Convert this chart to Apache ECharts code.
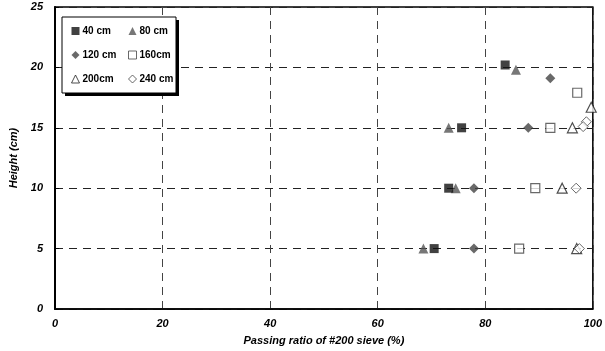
<!DOCTYPE html>
<html>
<head>
<meta charset="utf-8">
<script src="https://cdn.jsdelivr.net/npm/echarts@6/dist/echarts.min.js"></script>
<style>
html, body { margin: 0; padding: 0; background: #fff; }
#container { width: 605px; height: 351px; }
</style>
</head>
<body>
<div id="container"></div>
<script>
// [passing ratio (%), height (cm)]
var s40 = [[83.7, 20.2], [75.6, 15], [73.2, 10], [70.5, 5]];
var s80 = [[85.7, 19.8], [73.2, 15], [74.5, 10], [68.5, 5]];
var s120 = [[92.1, 19.1], [88.0, 15], [77.9, 10], [77.9, 5]];
var s160 = [[97.1, 17.9], [92.1, 15], [89.3, 10], [86.3, 5]];
var s200 = [[99.7, 16.7], [96.2, 15], [94.3, 10], [97.0, 5]];
var s240 = [[98.8, 15.5], [98.2, 15.1], [96.9, 10], [97.5, 5]];
var xTicks = [0, 20, 40, 60, 80, 100];
var yTicks = [0, 5, 10, 15, 20, 25];

var dom = document.getElementById("container");
var myChart = echarts.init(dom);
var axisFont = {
    fontFamily: 'Liberation Sans',
    fontWeight: 'bold',
    fontStyle: 'italic',
    fontSize: 11,
    color: '#000'
};
var legendFont = {fontFamily: 'Liberation Sans', fontWeight: 'bold', fontSize: 10, color: '#000', padding: [0, 0, 0, -2]};

option = {
    animation: false,
    grid: {
        left: 55, right: 8, top: 7, bottom: 39,
        show: true,
        borderColor: '#000',
        borderWidth: 1.5
    },
    graphic: [
        {
            type: 'rect',
            shape: {x: 65, y: 20, width: 114, height: 76},
            style: {fill: '#000'},
            z: 10
        },
        {
            type: 'rect',
            shape: {x: 62, y: 17, width: 114, height: 76},
            style: {fill: '#fff', stroke: '#000', lineWidth: 1},
            z: 11
        }
    ],
    legend: [
        {
            orient: 'vertical',
            left: 66, top: 21,
            itemWidth: 8, itemHeight: 8,
            itemGap: 14,
            z: 20,
            itemStyle: {borderWidth: 1},
            textStyle: legendFont,
            data: ['40 cm', '120 cm', '200cm']
        },
        {
            orient: 'vertical',
            left: 123, top: 21,
            itemWidth: 8, itemHeight: 8,
            itemGap: 14,
            z: 20,
            itemStyle: {borderWidth: 1},
            textStyle: legendFont,
            data: ['80 cm', '160cm', '240 cm']
        }
    ],
    xAxis: {
        type: 'value',
        min: 0, max: 100, interval: 20,
        name: 'Passing ratio of #200 sieve (%)',
        nameLocation: 'middle',
        nameGap: 26,
        nameTextStyle: axisFont,
        axisLine: {lineStyle: {color: '#000', width: 1.5}},
        axisTick: {show: false},
        axisLabel: Object.assign({margin: 9, formatter: function (v) { return xTicks.indexOf(v) >= 0 ? v : ''; }}, axisFont),
        splitLine: {show: true, lineStyle: {color: '#444', type: [8, 6], width: 1}}
    },
    yAxis: {
        type: 'value',
        min: 0, max: 25, interval: 5,
        name: 'Height (cm)',
        nameLocation: 'middle',
        nameGap: 35,
        nameTextStyle: axisFont,
        axisLine: {lineStyle: {color: '#000', width: 2}},
        axisTick: {show: true, inside: true, length: 4, lineStyle: {color: '#000'}},
        axisLabel: Object.assign({margin: 12, formatter: function (v) { return yTicks.indexOf(v) >= 0 ? v : ''; }}, axisFont),
        splitLine: {show: true, lineStyle: {color: '#222', type: [8, 6], width: 1}}
    },
    series: [
        {name: '40 cm', type: 'scatter', symbol: 'rect', symbolSize: 9, data: s40,
            itemStyle: {color: '#111'}, z: 5},
        {name: '80 cm', type: 'scatter', symbol: 'triangle', symbolSize: 10, data: s80,
            itemStyle: {color: '#555'}, z: 4},
        {name: '120 cm', type: 'scatter', symbol: 'diamond', symbolSize: 10, data: s120,
            itemStyle: {color: '#444'}},
        {name: '160cm', type: 'scatter', symbol: 'rect', symbolSize: 9, data: s160,
            itemStyle: {color: '#fff', borderColor: '#444', borderWidth: 1.2}},
        {name: '200cm', type: 'scatter', symbol: 'triangle', symbolSize: 10, data: s200,
            itemStyle: {color: '#fff', borderColor: '#222', borderWidth: 1.2}},
        {name: '240 cm', type: 'scatter', symbol: 'diamond', symbolSize: 10, data: s240,
            itemStyle: {color: '#fff', borderColor: '#444', borderWidth: 1}}
    ]
};

if (option && typeof option === "object") {
    myChart.setOption(option, true);
}
</script>
</body>
</html>
